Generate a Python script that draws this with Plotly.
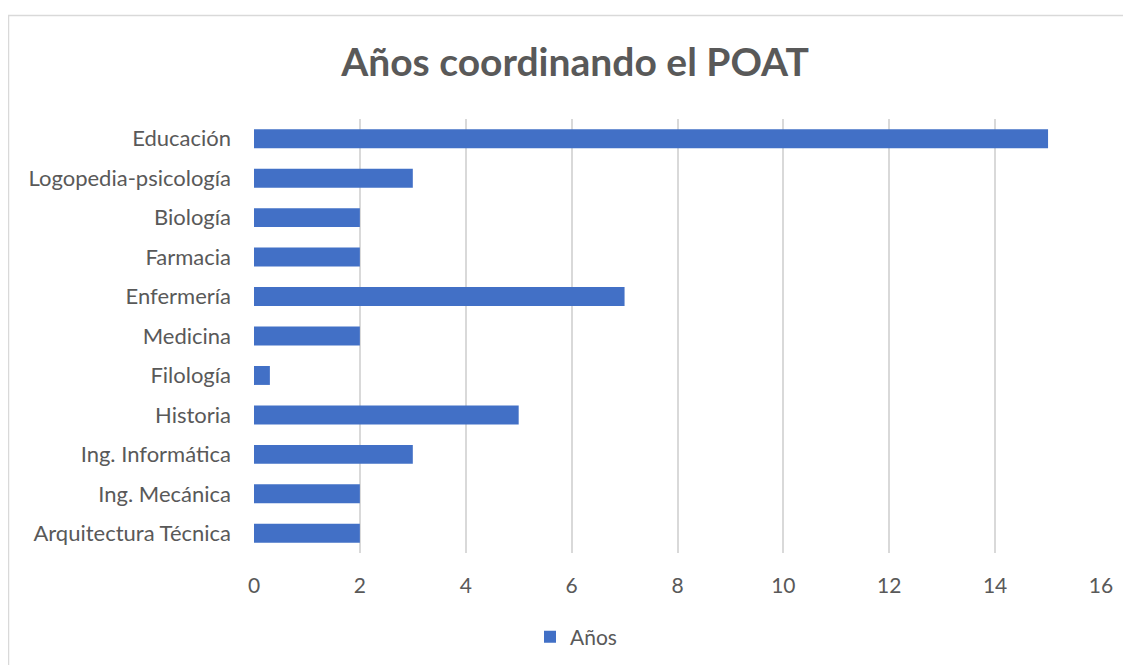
import plotly.graph_objects as go

categories = ["Arquitectura Técnica", "Ing. Mecánica", "Ing. Informática", "Historia",
              "Filología", "Medicina", "Enfermería", "Farmacia", "Biología",
              "Logopedia-psicología", "Educación"]
values = [2, 2, 3, 5, 0.3, 2, 7, 2, 2, 3, 15]
series_name = "Años"
title_text = "Años coordinando el POAT"
x_ticks = [0, 2, 4, 6, 8, 10, 12, 14, 16]

OFF = 8  # page body margin
W, H = 1131 - OFF, 665 - OFF
L = 254 - OFF
R = W - (1101 - OFF)
T = 119 - OFF
B = H - (553 - OFF)
pw = W - L - R
ph = H - T - B

def px_x(p):
    return (p - OFF - L) / pw

def px_y(p):
    return (H - B - (p - OFF)) / ph

fig = go.Figure()
fig.add_trace(go.Bar(
    y=categories, x=values, orientation="h", name=series_name,
    marker=dict(color="#4270C6", line=dict(width=0)),
    width=0.48,
))

font_family = "Lato, 'Open Sans', sans-serif"
fig.update_layout(
    width=W, height=H,
    margin=dict(l=L, r=R, t=T, b=B, autoexpand=False),
    paper_bgcolor="white", plot_bgcolor="white",
    title=dict(text="<b>" + title_text + "</b>", x=(575 - OFF) / W, xanchor="center",
               y=1 - (62 - OFF) / H, yanchor="middle",
               font=dict(family=font_family, size=39, color="#595959")),
    xaxis=dict(range=[0, 16], tickvals=x_ticks, showgrid=True, gridcolor="#d9d9d9",
               gridwidth=1.5, zeroline=False, showline=False, ticks="",
               ticklabelstandoff=18,
               tickfont=dict(family=font_family, size=21, color="#595959")),
    yaxis=dict(showgrid=False, zeroline=False, showline=False, ticks="",
               ticklabelstandoff=22,
               tickfont=dict(family=font_family, size=22, color="#595959")),
    showlegend=True,
    legend=dict(orientation="h", x=(576 - OFF) / W, xref="container", y=1 - (637 - OFF) / H,
                yref="container", xanchor="center", yanchor="middle",
                font=dict(family=font_family, size=21, color="#595959")),
)
fig.add_shape(type="rect", xref="paper", yref="paper",
              x0=px_x(8.5), x1=px_x(1140), y0=px_y(680), y1=px_y(15.5),
              line=dict(color="#d9d9d9", width=1.5), fillcolor="rgba(0,0,0,0)", layer="below")
fig.write_html("out.html")
